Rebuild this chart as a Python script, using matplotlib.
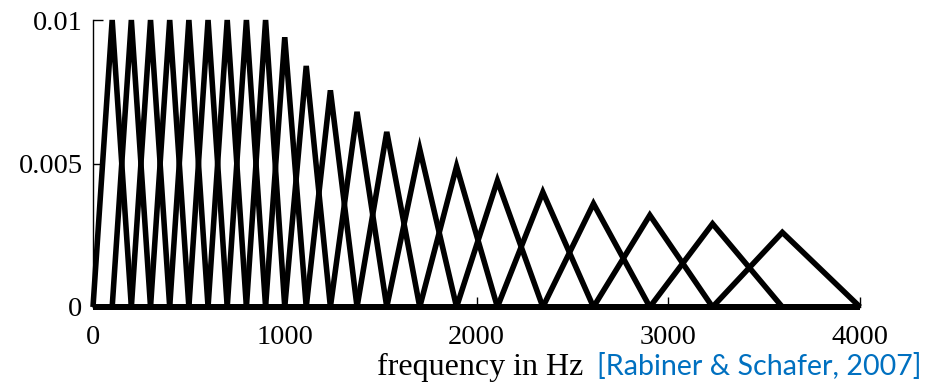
import matplotlib
matplotlib.use("Agg")
import matplotlib.pyplot as plt

# Band edges (Hz): filter i rises from edges[i], peaks at edges[i+1], falls to edges[i+2]
band_edges = [0, 100, 200, 300, 400, 500, 600, 700, 800, 900, 1000,
              1112, 1238, 1377, 1532, 1704, 1896, 2109, 2346, 2610,
              2904, 3231, 3595, 4000]
# Peak heights of each triangular filter
peak_heights = [0.01, 0.01, 0.01, 0.01, 0.01, 0.01, 0.01, 0.01, 0.01,
                0.0094, 0.0084, 0.00755, 0.0068, 0.0061, 0.0055, 0.0049,
                0.0044, 0.0040, 0.0036, 0.0032, 0.0029, 0.0026]
x_ticks = [0, 1000, 2000, 3000, 4000]
x_ticklabels = ["0", "1000", "2000", "3000", "4000"]
y_ticks = [0, 0.005, 0.01]
y_ticklabels = ["0", "0.005", "0.01"]
x_label = "frequency in Hz"
citation = "[Rabiner & Schafer, 2007]"

serif = ["Liberation Serif", "DejaVu Serif"]

fig = plt.figure(figsize=(9.26, 3.84), dpi=100)
ax = fig.add_axes([93 / 926, 1 - 307 / 384, (860 - 93) / 926, (307 - 20) / 384])

fmin, fmax = band_edges[0], band_edges[-1]
for i, h in enumerate(peak_heights):
    lo, c, hi = band_edges[i], band_edges[i + 1], band_edges[i + 2]
    ax.plot([fmin, lo, c, hi, fmax], [0, 0, h, 0, 0], color="black", lw=4.0,
            solid_joinstyle="miter", solid_capstyle="butt", clip_on=False)

ax.set_xlim(0, 4000)
ax.set_ylim(0, 0.01)
ax.set_xticks(x_ticks)
ax.set_xticklabels(x_ticklabels, fontfamily=serif, fontsize=20.5)
ax.set_yticks(y_ticks)
ax.set_yticklabels(y_ticklabels, fontfamily=serif, fontsize=20.5)
ax.tick_params(direction="in", length=7, width=1, color="black")
ax.tick_params(axis="y", pad=7.5)
ax.tick_params(axis="x", pad=13)
for s in ["top", "right"]:
    ax.spines[s].set_visible(False)
ax.spines["left"].set_linewidth(1.0)
ax.spines["bottom"].set_linewidth(1.0)
ax.set_xlabel(x_label, fontfamily=serif, fontsize=23, va="baseline")
ax.xaxis.set_label_coords((480 - 93) / 767, (307 - 375) / 287)

fig.text(597 / 926, 1 - 375 / 384, citation, color="#0070C0",
         fontfamily=["Lato", "DejaVu Sans"], fontsize=20.6, va="baseline", ha="left")

fig.savefig("out.png", dpi=100)
